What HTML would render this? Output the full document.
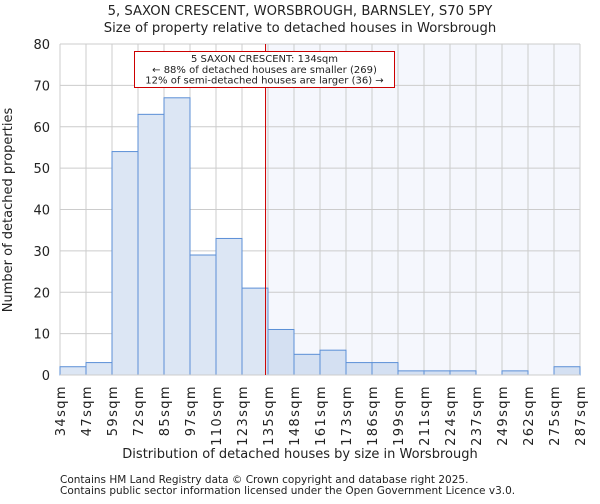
<!DOCTYPE html>
<html><head><meta charset="utf-8"><style>
body{margin:0;background:#fff;font-family:"DejaVu Sans","Liberation Sans",sans-serif}
svg text{font-family:"DejaVu Sans","Liberation Sans",sans-serif;fill:#222}
</style></head><body>
<svg id="chart" width="600" height="500" xmlns="http://www.w3.org/2000/svg">
<text x="300" y="15" font-size="13.2" text-anchor="middle">5, SAXON CRESCENT, WORSBROUGH, BARNSLEY, S70 5PY</text>
<text x="300" y="32" font-size="13.2" text-anchor="middle">Size of property relative to detached houses in Worsbrough</text>
<g id="plot"></g>
<text x="300" y="458" font-size="13" text-anchor="middle">Distribution of detached houses by size in Worsbrough</text>
<text transform="translate(12,210) rotate(-90)" font-size="13" text-anchor="middle">Number of detached properties</text>
<text x="60" y="483" font-size="10.5" fill="#444">Contains HM Land Registry data © Crown copyright and database right 2025.</text>
<text x="60" y="494" font-size="10.5" fill="#444">Contains public sector information licensed under the Open Government Licence v3.0.</text>
</svg>
<script>
const categories=["34sqm","47sqm","59sqm","72sqm","85sqm","97sqm","110sqm","123sqm","135sqm","148sqm","161sqm","173sqm","186sqm","199sqm","211sqm","224sqm","237sqm","249sqm","262sqm","275sqm","287sqm"];
const counts=[2,3,54,63,67,29,33,21,11,5,6,3,3,1,1,1,0,1,0,2];
const yTicks=[0,10,20,30,40,50,60,70,80];
const binStart=34, binWidth=12.65;
const propertySize=134;
const X0=60,X1=580,Y0=375,Y1=44,YMAX=80;
const n=counts.length;
const xs=i=>X0+i*(X1-X0)/n;
const xv=v=>X0+(v-binStart)/binWidth*(X1-X0)/n;
const y=v=>Y0-v/YMAX*(Y0-Y1);
const NS="http://www.w3.org/2000/svg";
const g=document.getElementById('plot');
function mk(t,a){const e=document.createElementNS(NS,t);for(const k in a)e.setAttribute(k,a[k]);g.appendChild(e);return e;}
const px=xv(propertySize);
let e=mk('rect',{x:px,y:Y1,width:X1-px,height:Y0-Y1,fill:'#f5f7fd'});


yTicks.forEach(t=>{
 let l=mk('line',{x1:X0,x2:X1,y1:y(t),y2:y(t),stroke:'#cccccc','stroke-width':1});
 
 
 let tx=mk('text',{x:X0-10,y:y(t)+5,'font-size':13,'text-anchor':'end'});tx.textContent=t;
 
 
});
categories.forEach((c,i)=>{
 let l=mk('line',{x1:xs(i),x2:xs(i),y1:Y1,y2:Y0,stroke:'#cccccc','stroke-width':1});
 
 
 let tx=mk('text',{transform:`translate(${xs(i)+5},${Y0+10}) rotate(-90)`,'font-size':13,'letter-spacing':'1.4','text-anchor':'end'});tx.textContent=c;
 
 
});
counts.forEach((v,i)=>{
 if(v<=0)return;
 let r=mk('rect',{x:xs(i),y:y(v),width:xs(i+1)-xs(i),height:Y0-y(v),fill:i>=8?'#d4e0f2':'#dce6f4',stroke:'#5b8fd6','stroke-width':1});
 
 
});
e=mk('line',{x1:X0,x2:X1,y1:Y0,y2:Y0,stroke:'#cccccc'});


e=mk('line',{x1:px,x2:px,y1:Y1,y2:Y0,stroke:'#cc0000','stroke-width':1});


e=mk('rect',{x:134.5,y:51.5,width:260,height:36,fill:'#fff',stroke:'#cc0000','stroke-width':1});


["5 SAXON CRESCENT: 134sqm","← 88% of detached houses are smaller (269)","12% of semi-detached houses are larger (36) →"].forEach((s,i)=>{
 let tx=mk('text',{x:264.5,y:62+i*10.8,'font-size':10,'text-anchor':'middle'});tx.textContent=s;
 
 
});
</script>
</body></html>
